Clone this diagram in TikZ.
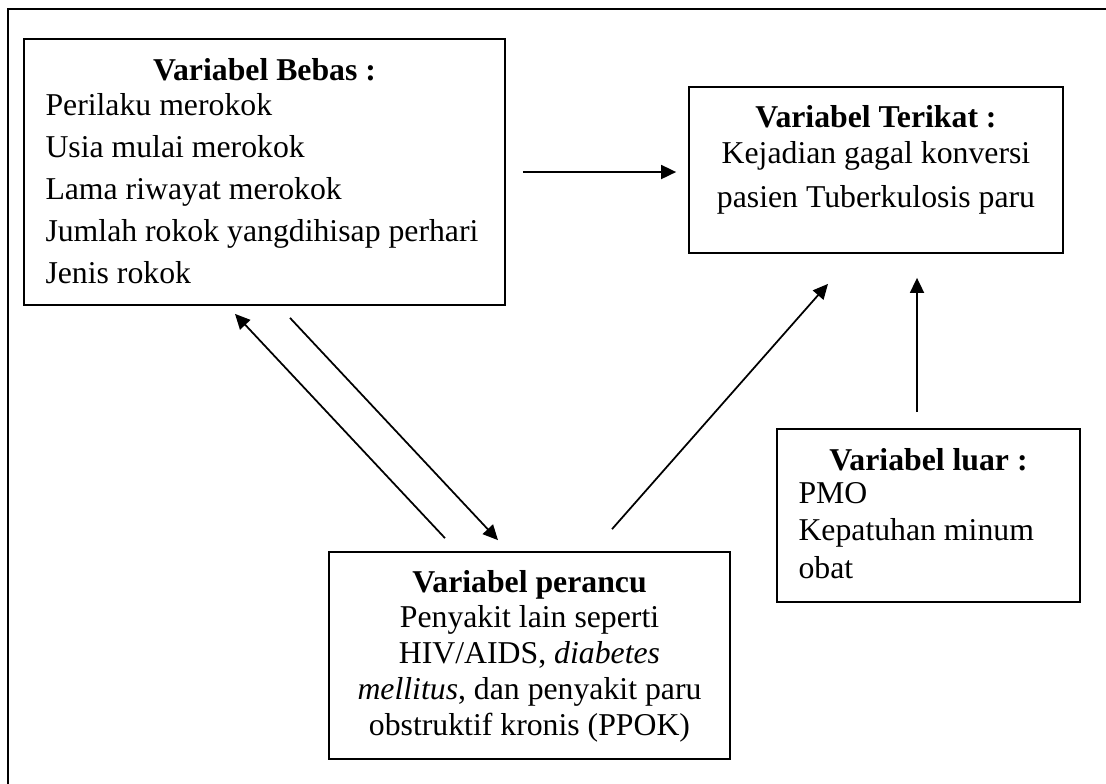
\documentclass[tikz,border=0pt]{standalone}
\usepackage{fontspec}
\setmainfont{Liberation Serif}
\usetikzlibrary{arrows.meta,positioning,fit,calc}
\tikzset{
  varbox/.style={draw=black,line width=0.7pt,inner sep=0pt},
  heading/.style={font=\fontsize{12.7}{15}\selectfont\bfseries,inner sep=0pt},
  items/.style={font=\fontsize{12.7}{#1}\selectfont,inner sep=0pt,align=left},
  itemsmid/.style={font=\fontsize{12.7}{#1}\selectfont,inner sep=0pt,align=center},
  link/.style={-{Triangle[length=6pt,width=5.6pt]},line width=0.7pt}
}

\begin{document}
\begin{tikzpicture}[x=0.4pt,y=-0.4pt]
    \useasboundingbox (0,0) rectangle (1106,783);
    \begin{scope}
      \clip (0,0) rectangle (1106,783);
      \draw[line width=0.9pt] (8,9) rectangle (1130,810);
    \end{scope}

    % the four boxes
    \node[varbox,fit={(24,39) (505,305)}] (bebas) {};
    \node[varbox,fit={(689,87) (1063,253)}] (terikat) {};
    \node[varbox,fit={(329,552) (730,759)}] (perancu) {};
    \node[varbox,fit={(777,429) (1080,602)}] (luar) {};

    % texts (anchored at the baseline of the last line)
    \node[heading,anchor=base] (bebashead) at (264.5,80) {Variabel Bebas :};
    \node[items=16.8pt,anchor=base west] (bebasbody) at (45,283)
      {Perilaku merokok\\Usia mulai merokok\\Lama riwayat merokok\\Jumlah rokok yangdihisap perhari\\Jenis rokok};

    \node[heading,anchor=base] (terikathead) at (876,127) {Variabel Terikat :};
    \node[itemsmid=17.6pt,anchor=base] (terikatbody) at (876,207)
      {Kejadian gagal konversi\\pasien Tuberkulosis paru};

    \node[heading,anchor=base] (perancuhead) at (529.5,592) {Variabel perancu};
    \node[itemsmid=14.3pt,anchor=base] (perancubody) at (529.5,735)
      {Penyakit lain seperti\\HIV/AIDS, \textit{diabetes}\\\textit{mellitus}, dan penyakit paru\\obstruktif kronis (PPOK)};

    \node[heading,anchor=base] (luarhead) at (928.5,470) {Variabel luar :};
    \node[items=15pt,anchor=base west] (luarbody) at (798,578)
      {PMO\\Kepatuhan minum\\obat};

    % arrows
    \draw[link] ($(bebas.east)+(17,0)$) -- ($(terikat.west)+(-12,2)$);
    \draw[link] ($(perancu.north)+(-84.5,-13)$) -- ($(bebas.south)+(-29.5,8)$);
    \draw[link] ($(bebas.south)+(25.5,12)$) -- ($(perancu.north)+(-31.5,-11)$);
    \draw[link] ($(perancu.north)+(82.5,-22)$) -- ($(terikat.south)+(-48,30)$);
    \draw[link] ($(luar.north)+(-11.5,-16)$) -- ($(terikat.south)+(41,24)$);
\end{tikzpicture}
\end{document}
